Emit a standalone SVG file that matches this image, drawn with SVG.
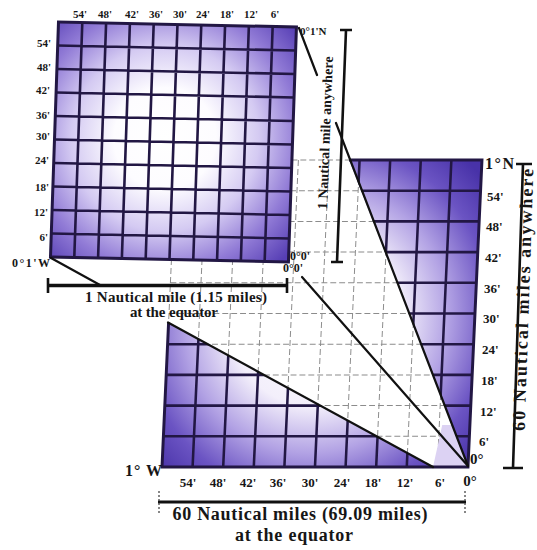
<svg xmlns="http://www.w3.org/2000/svg" width="537" height="550" viewBox="0 0 537 550">
<style>
.t{font-family:"Liberation Serif","Times New Roman",serif;font-weight:bold;fill:#161616}
.s11{font-size:11px}.s12{font-size:12px}.s13{font-size:13px}.s14{font-size:14px}.s15{font-size:15px}.s16{font-size:16px}.s18{font-size:18px}
.dash{fill:none;stroke:#8c8c8c;stroke-width:1;stroke-dasharray:6 3}
.grid{fill:none;stroke:#221744;stroke-width:2.6}
.edge{fill:none;stroke:#221744;stroke-width:3}
.diag{fill:none;stroke:#111;stroke-width:2.2;stroke-linecap:round}
.bar{fill:none;stroke:#111;stroke-width:2.6}
.tick{fill:none;stroke:#555;stroke-width:1.4;stroke-dasharray:2 2}
</style>
<defs>
<radialGradient id="gBig" gradientUnits="userSpaceOnUse" cx="150" cy="160" r="215">
<stop offset="0" stop-color="#ffffff"/>
<stop offset="0.4" stop-color="#f3effb"/>
<stop offset="0.62" stop-color="#b2a2e4"/>
<stop offset="0.82" stop-color="#6b54c3"/>
<stop offset="1" stop-color="#4832a8"/>
</radialGradient>
<radialGradient id="gSmall" gradientUnits="userSpaceOnUse" cx="110" cy="115" r="170">
<stop offset="0" stop-color="#ffffff"/>
<stop offset="0.3" stop-color="#fdfcff"/>
<stop offset="0.55" stop-color="#d4caf2"/>
<stop offset="0.78" stop-color="#917bd6"/>
<stop offset="1" stop-color="#573fb5"/>
</radialGradient>
<clipPath id="cPurple">
<polygon points="175.4,0 310,0 310,307"/>
<polygon points="0,162.5 0,307 274.6,307"/>
</clipPath>
</defs>

<g id="big-square" transform="matrix(0.987 0 -0.0456 1 176 160)">
<rect x="0" y="0" width="310" height="307" fill="#ffffff"/>
<path class="dash" d="M0 0V307M31 0V307M62 0V307M93 0V307M124 0V307M155 0V307M186 0V307M217 0V307M248 0V307M279 0V307M0 0H310M0 30.7H310M0 61.4H310M0 92.1H310M0 122.8H310M0 153.5H310M0 184.2H310M0 214.9H310M0 245.6H310M0 276.3H310"/>
<polygon points="274.6,307 310,307 304,265 282,265" fill="#dcd2f3"/>
<polygon points="175.4,0 310,0 310,307" fill="url(#gBig)"/>
<polygon points="0,162.5 0,307 274.6,307" fill="url(#gBig)"/>
<path class="grid" clip-path="url(#cPurple)" d="M31 0V307M62 0V307M93 0V307M124 0V307M155 0V307M186 0V307M217 0V307M248 0V307M279 0V307M0 30.7H310M0 61.4H310M0 92.1H310M0 122.8H310M0 153.5H310M0 184.2H310M0 214.9H310M0 245.6H310M0 276.3H310"/>
<polyline class="edge" points="175.4,0 310,0 310,307 0,307 0,162.5"/>
</g>

<g id="small-square" transform="matrix(1.004 0.0211 -0.0338 0.9916 58.5 22)">
<rect x="0" y="0" width="237" height="237" fill="url(#gSmall)"/>
<path class="grid" d="M23.7 0V237M47.4 0V237M71.1 0V237M94.8 0V237M118.5 0V237M142.2 0V237M165.9 0V237M189.6 0V237M213.3 0V237M0 23.7H237M0 47.4H237M0 71.1H237M0 94.8H237M0 118.5H237M0 142.2H237M0 165.9H237M0 189.6H237M0 213.3H237"/>
<rect class="edge" x="0" y="0" width="237" height="237"/>
</g>

<g id="connectors">
<path class="diag" d="M299 28L317 75M336 123L468 466"/>
<path class="diag" d="M302 277L468 466"/>
<path class="diag" d="M51 258L100 285M168 322.5L433 467"/>
<path class="bar" d="M346 30L337 262M340 30H352M331 262H343"/>
<path class="bar" d="M523 164L513 468M516 164H532M503 468H523"/>
<path class="bar" d="M48 278V293M287 278V293"/>
<path fill="none" stroke="#111" stroke-width="3.6" d="M48 285.5H287"/>
<path fill="none" stroke="#111" stroke-width="3" d="M158 502H466"/>
<path class="tick" d="M159 491V513M465 491V513"/>
</g>

<g id="labels-small">
<text class="t s11" x="300" y="35">0°1'N</text>
<text class="t s12" x="12" y="267" textLength="38" lengthAdjust="spacing">0°1'W</text>
<text class="t s12" x="290" y="260">0°0'</text>
<text class="t s12" x="283" y="272">0°0'</text>
<g text-anchor="middle">
<text class="t s11" x="80" y="18">54'</text>
<text class="t s11" x="105" y="18">48'</text>
<text class="t s11" x="132" y="18">42'</text>
<text class="t s11" x="156" y="18">36'</text>
<text class="t s11" x="180" y="18">30'</text>
<text class="t s11" x="203" y="18">24'</text>
<text class="t s11" x="227" y="18">18'</text>
<text class="t s11" x="251" y="18">12'</text>
<text class="t s11" x="275" y="18">6'</text>
</g>
<g text-anchor="end">
<text class="t s11" x="51" y="47">54'</text>
<text class="t s11" x="51" y="71">48'</text>
<text class="t s11" x="50" y="94">42'</text>
<text class="t s11" x="50" y="119">36'</text>
<text class="t s11" x="50" y="140">30'</text>
<text class="t s11" x="49" y="164">24'</text>
<text class="t s11" x="49" y="191">18'</text>
<text class="t s11" x="48" y="216">12'</text>
<text class="t s11" x="48" y="241">6'</text>
</g>
</g>

<g id="labels-big">
<text class="t s16" x="485" y="169" textLength="29" lengthAdjust="spacing">1°N</text>
<text class="t s13" x="487" y="201">54'</text>
<text class="t s13" x="486" y="231">48'</text>
<text class="t s13" x="485" y="262">42'</text>
<text class="t s13" x="484" y="293">36'</text>
<text class="t s13" x="483" y="323">30'</text>
<text class="t s13" x="482" y="354">24'</text>
<text class="t s13" x="481" y="385">18'</text>
<text class="t s13" x="480" y="416">12'</text>
<text class="t s13" x="479" y="446">6'</text>
<text class="t s15" x="470" y="464">0°</text>
<text class="t s16" x="125" y="476" textLength="37" lengthAdjust="spacing">1° W</text>
<g text-anchor="middle">
<text class="t s13" x="188" y="487">54'</text>
<text class="t s13" x="218" y="487">48'</text>
<text class="t s13" x="248" y="487">42'</text>
<text class="t s13" x="278" y="487">36'</text>
<text class="t s13" x="310" y="487">30'</text>
<text class="t s13" x="342" y="487">24'</text>
<text class="t s13" x="373" y="487">18'</text>
<text class="t s13" x="405" y="487">12'</text>
<text class="t s13" x="440" y="487">6'</text>
<text class="t s15" x="470" y="486">0°</text>
</g>
</g>

<g id="measures" text-anchor="middle">
<text class="t s14" transform="translate(330 133) rotate(-87.8)" textLength="153" lengthAdjust="spacing">1 Nautical mile anywhere</text>
<text class="t s18" transform="translate(529 300) rotate(-88.1)" textLength="262" lengthAdjust="spacing">60 Nautical miles anywhere</text>
<text class="t s15" x="176" y="302" textLength="182" lengthAdjust="spacing">1 Nautical mile (1.15 miles)</text>
<text class="t s15" x="174" y="317" textLength="88" lengthAdjust="spacing">at the equator</text>
<text class="t s18" x="300" y="520" textLength="255" lengthAdjust="spacing">60 Nautical miles (69.09 miles)</text>
<text class="t s18" x="294" y="541" textLength="118" lengthAdjust="spacing">at the equator</text>
</g>
</svg>
